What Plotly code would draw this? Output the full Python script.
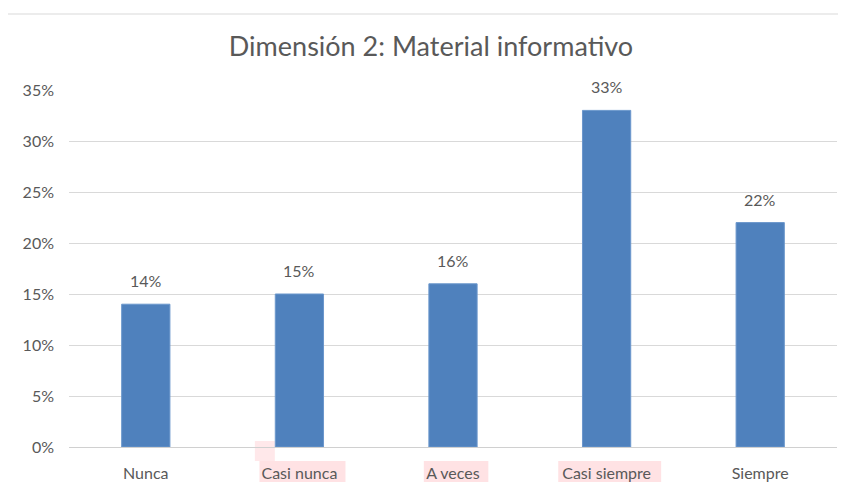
import plotly.graph_objects as go

categories = ["Nunca", "Casi nunca", "A veces", "Casi siempre", "Siempre"]
values = [14, 15, 16, 33, 22]
labels = ["14%", "15%", "16%", "33%", "22%"]
tick_vals = [0, 5, 10, 15, 20, 25, 30, 35]
tick_text = ["0%", "5%", "10%", "15%", "20%", "25%", "30%", "35%"]

FONT = "Lato, 'Open Sans', sans-serif"
GREY = "#595959"

fig = go.Figure(go.Bar(
    x=categories, y=values,
    marker=dict(color="#4F81BD", line=dict(color="#6B97CC", width=1)),
    hoverinfo="skip",
))

for c, v, t in zip(categories, values, labels):
    fig.add_annotation(x=c, y=v, text=t, showarrow=False, yanchor="bottom",
                       yshift=12, font=dict(size=16, color=GREY, family=FONT))

# page is offset by the 8px body margin; window pixel -> paper fraction
def px_to_paper(p):
    return (447 - p) / 357.0

shapes = []
shapes.append(dict(type="rect", xref="paper", yref="paper",
                   x0=(7 - 69) / 768.0, x1=1.05, y0=-0.3, y1=px_to_paper(14),
                   line=dict(color="#d9d9d9", width=1), layer="below"))
hl = [(1, 0.56), (2, 0.42), (3, 0.67)]
for idx, w in hl:
    shapes.append(dict(type="rect", xref="x", yref="paper",
                       x0=idx + 0.02 - w / 2, x1=idx + 0.02 + w / 2,
                       y0=px_to_paper(482), y1=px_to_paper(461),
                       fillcolor="rgba(255,190,195,0.45)", line=dict(width=0), layer="below"))
shapes.append(dict(type="rect", xref="x", yref="paper",
                   x0=1 - 0.29, x1=1 - 0.16,
                   y0=px_to_paper(461), y1=px_to_paper(441),
                   fillcolor="rgba(255,190,195,0.35)", line=dict(width=0), layer="below"))

fig.update_layout(
    width=846, height=495,
    margin=dict(l=61, r=17, t=82, b=56),
    paper_bgcolor="white", plot_bgcolor="white",
    title=dict(text="Dimensión 2: Material informativo", x=0.5, xanchor="center",
               y=1 - 39 / 495.0, yanchor="middle",
               font=dict(size=27, color=GREY, family=FONT)),
    bargap=0.686,
    showlegend=False,
    shapes=shapes,
    xaxis=dict(showgrid=False, showline=True, linecolor="#d0d0d0", linewidth=1,
               ticks="", tickfont=dict(size=16, color=GREY, family=FONT),
               ticklabelstandoff=12),
    yaxis=dict(range=[0, 35], tickvals=tick_vals, ticktext=tick_text,
               showgrid=True, gridcolor="#d9d9d9", gridwidth=1, zeroline=False,
               showline=False, ticks="",
               tickfont=dict(size=16, color=GREY, family=FONT),
               ticklabelstandoff=14),
)

fig.write_html("out.html")
